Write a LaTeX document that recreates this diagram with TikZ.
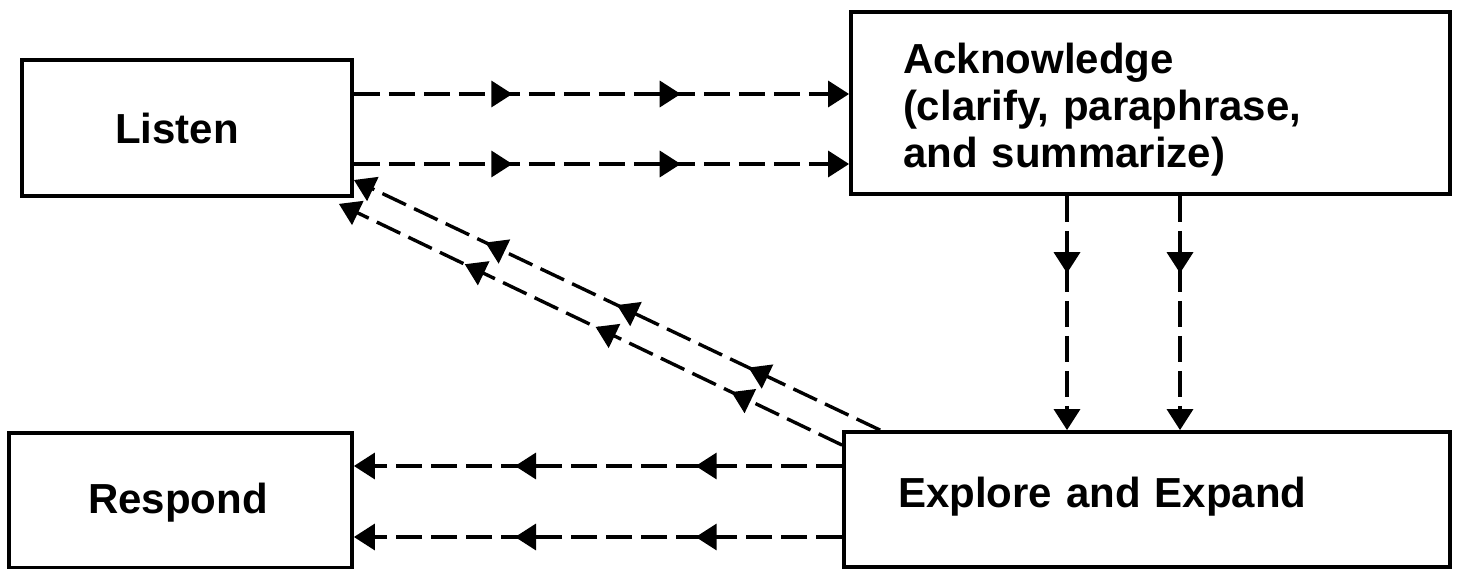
\documentclass[tikz,border=0pt]{standalone}
\usepackage{fontspec}
\setmainfont{Liberation Sans}
\usetikzlibrary{arrows.meta,decorations.markings}
\tikzset{
  Fl/.tip={Triangle[length=21pt,width=26pt]},
  box/.style={draw=black, line width=3.8pt, rectangle, inner ysep=0pt,
    align=left, font=\bfseries\fontsize{42}{47}\selectfont},
  flow/.style={draw=black, line width=3.4pt, dash pattern=on 26pt off 9pt, -{Fl}},
  twomarks/.style 2 args={postaction={decorate}, decoration={markings,
    mark=at position #1 with {\arrow{Fl}},
    mark=at position #2 with {\arrow{Fl}}}},
  threemarks/.style n args={3}{postaction={decorate}, decoration={markings,
    mark=at position #1 with {\arrow{Fl}},
    mark=at position #2 with {\arrow{Fl}},
    mark=at position #3 with {\arrow{Fl}}}},
  onemark/.style={postaction={decorate}, decoration={markings,
    mark=at position #1 with {\arrow{Fl}}}}
}
\begin{document}
\begin{tikzpicture}[x=1pt,y=-1pt]
\useasboundingbox[fill=white] (0,0) rectangle (1460,569);

% the four stages
\node[box, minimum width=330pt, minimum height=136pt, text width=144pt,
      inner xsep=93pt, text depth=0pt] (Listen) at (187,128) {Listen};
\node[box, minimum width=343pt, minimum height=135pt, text width=185pt,
      inner xsep=79pt, text depth=4pt] (Respond) at (180.5,500.5) {Respond};
\node[box, minimum width=599pt, minimum height=182pt, text width=495pt,
      inner xsep=52pt, text height=36pt, text depth=94pt] (Ack) at (1150.5,103)
      {Acknowledge\\(clarify, paraphrase,\\and summarize)};
\node[box, minimum width=606pt, minimum height=135pt, text width=498pt,
      inner xsep=54pt, text depth=14pt] (Explore) at (1147,499.5)
      {Explore and Expand};

% connector end points on the box sides
\coordinate (l1) at ([yshift=34pt]Listen.east);
\coordinate (l2) at ([yshift=-36pt]Listen.east);
\coordinate (e1) at ([yshift=33.5pt]Explore.west);
\coordinate (e2) at ([yshift=-37.5pt]Explore.west);
\coordinate (a1) at ([xshift=-83.5pt]Ack.south);
\coordinate (a2) at ([xshift=29.5pt]Ack.south);
\coordinate (d1s) at ([xshift=38pt]Explore.north west);
\coordinate (d1e) at ([yshift=-52pt]Listen.east);
\coordinate (d2s) at ([yshift=-15pt]Explore.north west);
\coordinate (d2e) at ([xshift=-15pt,yshift=-6pt]Listen.south east);

% Listen -> Acknowledge
\draw[flow, twomarks={0.32}{0.66}] (l1) -- (l1 -| Ack.west);
\draw[flow, twomarks={0.32}{0.66}] (l2) -- (l2 -| Ack.west);

% Acknowledge -> Explore and Expand
\draw[flow, onemark=0.33] (a1) -- (a1 |- Explore.north);
\draw[flow, onemark=0.33] (a2) -- (a2 |- Explore.north);

% Explore and Expand -> Respond
\draw[flow, twomarks={0.30}{0.67}] (e1) -- (e1 -| Respond.east);
\draw[flow, twomarks={0.30}{0.67}] (e2) -- (e2 -| Respond.east);

% Explore and Expand -> Listen
\draw[flow, threemarks={0.25}{0.5}{0.75}] (d1s) -- (d1e);
\draw[flow, threemarks={0.22}{0.49}{0.75}] (d2s) -- (d2e);
\end{tikzpicture}
\end{document}
